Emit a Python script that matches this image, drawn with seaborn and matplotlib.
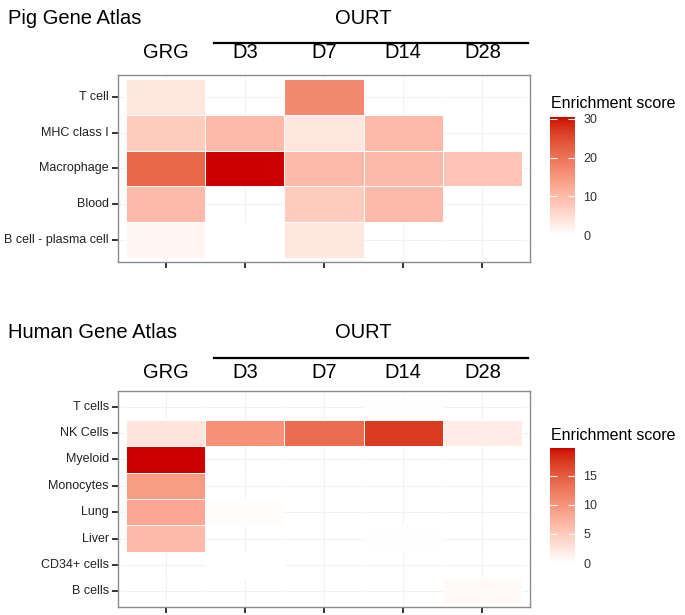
import numpy as np
import pandas as pd
import matplotlib
matplotlib.use("Agg")
import matplotlib.pyplot as plt
from matplotlib.colors import ListedColormap, to_rgb
from matplotlib.lines import Line2D
from matplotlib.transforms import blended_transform_factory
import seaborn as sns

plt.rcParams['font.family'] = ['Liberation Sans', 'DejaVu Sans']

# data
groups = ["GRG", "D3", "D7", "D14", "D28"]

pig_cells = ["T cell", "MHC class I", "Macrophage", "Blood", "B cell - plasma cell"]
pig_grg = [3.5, 7.5, 21.5, 10, 1.5]
pig_d3 = [np.nan, 10, 30.5, np.nan, 0]
pig_d7 = [17, 3.5, 10, 7.5, 3.5]
pig_d14 = [np.nan, 10, 10, 10, np.nan]
pig_d28 = [np.nan, np.nan, 8.5, np.nan, np.nan]

human_cells = ["T cells", "NK Cells", "Myeloid", "Monocytes", "Lung", "Liver", "CD34+ cells", "B cells"]
human_grg = [np.nan, 2.4, 19.8, 9.3, 8.2, 6.4, np.nan, np.nan]
human_d3 = [np.nan, 10.3, np.nan, np.nan, 0.3, np.nan, 0, np.nan]
human_d7 = [np.nan, 13.5, np.nan, np.nan, np.nan, np.nan, np.nan, np.nan]
human_d14 = [0.2, 17.5, np.nan, np.nan, np.nan, 0.2, np.nan, np.nan]
human_d28 = [np.nan, 1.8, np.nan, np.nan, np.nan, np.nan, np.nan, 0.6]

pig = pd.DataFrame({"GRG": pig_grg, "D3": pig_d3, "D7": pig_d7, "D14": pig_d14, "D28": pig_d28},
                   index=pig_cells)[groups]
human = pd.DataFrame({"GRG": human_grg, "D3": human_d3, "D7": human_d7, "D14": human_d14, "D28": human_d28},
                     index=human_cells)[groups]


# white -> red3 gradient, interpolated in Lab like ggplot does
def to_lab(rgb):
    rgb = np.asarray(rgb, float)
    lin = np.where(rgb <= 0.04045, rgb / 12.92, ((rgb + 0.055) / 1.055) ** 2.4)
    M = np.array([[0.4124, 0.3576, 0.1805], [0.2126, 0.7152, 0.0722], [0.0193, 0.1192, 0.9505]])
    xyz = M @ lin / np.array([0.95047, 1.0, 1.08883])
    f = np.where(xyz > 0.008856, np.cbrt(xyz), 7.787 * xyz + 16 / 116)
    return np.array([116 * f[1] - 16, 500 * (f[0] - f[1]), 200 * (f[1] - f[2])])


def from_lab(lab):
    L, a, b = lab
    fy = (L + 16) / 116
    f = np.array([fy + a / 500, fy, fy - b / 200])
    xyz = np.where(f ** 3 > 0.008856, f ** 3, (f - 16 / 116) / 7.787) * np.array([0.95047, 1.0, 1.08883])
    Mi = np.array([[3.2406, -1.5372, -0.4986], [-0.9689, 1.8758, 0.0415], [0.0557, -0.2040, 1.0570]])
    lin = Mi @ xyz
    rgb = np.where(lin <= 0.0031308, 12.92 * lin, 1.055 * np.clip(lin, 0, None) ** (1 / 2.4) - 0.055)
    return np.clip(rgb, 0, 1)


lo = to_lab(to_rgb("white"))
hi = to_lab(to_rgb("#CD0000"))
cmap = ListedColormap([from_lab(lo + (hi - lo) * t) for t in np.linspace(0, 1, 256)])

W, H = 685, 615
fig = plt.figure(figsize=(W / 100, H / 100), dpi=100)


def fy(py):
    # pixel row (from top) -> figure fraction
    return 1 - py / H


def panel(df, title, ax_top, ax_bot, cb_top, cb_bot, vmax, ticks, head_y, line_y, title_y):
    ax = fig.add_axes([118 / W, fy(ax_bot), 412 / W, (ax_bot - ax_top) / H])
    cax = fig.add_axes([550 / W, fy(cb_bot), 25 / W, (cb_bot - cb_top) / H])
    sns.heatmap(df, ax=ax, cmap=cmap, vmin=0, vmax=vmax, linewidths=0.7, linecolor="white",
                cbar_ax=cax, cbar_kws={"ticks": ticks})
    nr, nc = df.shape
    ax.set_xlim(-0.1, nc + 0.1)
    ax.set_ylim(nr + 0.1, -0.1)
    ax.set_axisbelow(True)
    ax.grid(True, color="#EFEFEF", lw=0.6)
    for s in ax.spines.values():
        s.set_visible(True)
        s.set_color("#8C8C8C")
        s.set_linewidth(1.0)
    ax.set_xticks(np.arange(nc) + 0.5)
    ax.set_xticklabels([""] * nc)
    ax.set_yticks(np.arange(nr) + 0.5)
    ax.set_yticklabels(df.index, rotation=0, fontsize=9, color="#222222")
    ax.tick_params(axis="both", length=4.5, width=1.3, color="#222222", pad=2)
    ax.set_xlabel("")
    ax.set_ylabel("")

    # column headers, OURT bracket and panel title
    tr = blended_transform_factory(ax.transData, fig.transFigure)
    for i, g in enumerate(df.columns):
        ax.text(i + 0.5, fy(head_y), g, transform=tr, ha="center", va="center", fontsize=14.5)
    ax.text(3.0, fy(title_y), "OURT", transform=tr, ha="center", va="center", fontsize=14.5)
    fig.add_artist(Line2D([214 / W, 528 / W], [fy(line_y), fy(line_y)], color="black", lw=1.6))
    fig.text(8 / W, fy(title_y), title, ha="left", va="center", fontsize=14.5)

    # colourbar in ggplot look
    cb = ax.collections[0].colorbar
    cb.outline.set_visible(False)
    cax.tick_params(left=True, right=True, direction="in", length=5, width=0.8, color="white",
                    labelsize=9, labelcolor="#333333", pad=6)
    fig.text(551 / W, fy(cb_top - 13), "Enrichment score", ha="left", va="center", fontsize=11.5)
    return ax


panel(pig, "Pig Gene Atlas", 75, 262, 117, 235, 30.5, [0, 10, 20, 30], 53, 43, 18)
panel(human, "Human Gene Atlas", 391, 607, 448, 563, 19.8, [0, 5, 10, 15], 372, 358, 333)

fig.savefig("out.png", dpi=100)
